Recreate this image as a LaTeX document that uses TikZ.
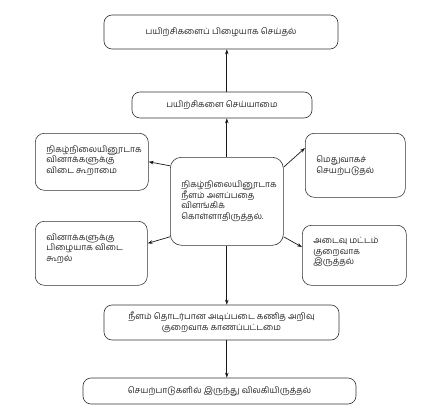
\documentclass[tikz,border=0pt]{standalone}
\usepackage{fontspec}
\newfontfamily\tamil[Script=Tamil]{Hind Madurai}
\usepackage{tikz}
\usetikzlibrary{arrows.meta, positioning, calc}

\newcommand{\boxtext}[4][t]{\parbox[c][#3][#1]{#2}{\raggedright #4}}

\tikzset{
  every node/.style={font=\tamil\fontsize{8.6}{10.6}\selectfont, text=black!85},
  mainbox/.style={draw=black!80, line width=0.6pt, rounded corners=8pt, align=center, inner sep=2pt},
  sidebox/.style={draw=black!80, line width=0.6pt, rounded corners=9pt, anchor=north west, inner xsep=11pt, inner ysep=12pt},
  arr/.style={-{Stealth[length=5pt, width=3.5pt]}, line width=0.7pt, black!90}
}

\begin{document}
\begin{tikzpicture}[x=1pt, y=-1pt]
  \useasboundingbox (0,0) rectangle (440,415);

  % top chain
  \node[mainbox, minimum width=234pt, minimum height=34pt] (top) at (221,32) {பயிற்சிகளைப் பிழையாக செய்தல்};
  \node[mainbox, minimum width=180pt, minimum height=26pt] (act) at (222,105) {பயிற்சிகளை செய்யாமை};

  % centre and the four sides
  \node[sidebox, rounded corners=11pt] (cen) at (170,157) {\boxtext[c]{91pt}{64pt}{நிகழ்நிலையினூடாக\\நீளம் அளப்பதை\\விளங்கிக்\\கொள்ளாதிருத்தல்.}};
  \node[sidebox] (lt) at (35,133) {\boxtext{91pt}{33pt}{நிகழ்நிலையினூடாக\\வினாக்களுக்கு\\விடை கூறாமை}};
  \node[sidebox] (rt) at (305,133) {\boxtext[c]{78pt}{40pt}{மெதுவாகச்\\செயற்படுதல்}};
  \node[sidebox] (lb) at (35,221) {\boxtext{90pt}{40pt}{வினாக்களுக்கு\\பிழையாக விடை\\கூறல்}};
  \node[sidebox] (rb) at (302,225) {\boxtext{82pt}{36pt}{அடைவு மட்டம்\\குறைவாக\\இருத்தல்}};

  % bottom chain
  \node[mainbox, minimum width=235pt, minimum height=35pt] (base) at (221.5,322.5) {நீளம் தொடர்பான அடிப்படை கணித அறிவு\\குறைவாக காணப்பட்டமை};
  \node[mainbox, minimum width=273pt, minimum height=26pt] (bot) at (219.5,391) {செயற்பாடுகளில் இருந்து விலகியிருத்தல்};

  % connectors
  \draw[arr] (cen.north) -- (act.south -| cen.north);
  \draw[arr] (act.north -| cen.north) -- (top.south -| cen.north);
  \draw[arr] (cen.148) -- (lt.east);
  \draw[arr] (cen.31) -- (rt.161);
  \draw[arr] (cen.212) -- (lb.10);
  \draw[arr] (cen.328) -- (rb.171);
  \draw[arr] (cen.south) -- (base.north -| cen.south);
  \draw[arr] (base.south -| cen.south) -- (bot.north -| cen.south);
\end{tikzpicture}
\end{document}
